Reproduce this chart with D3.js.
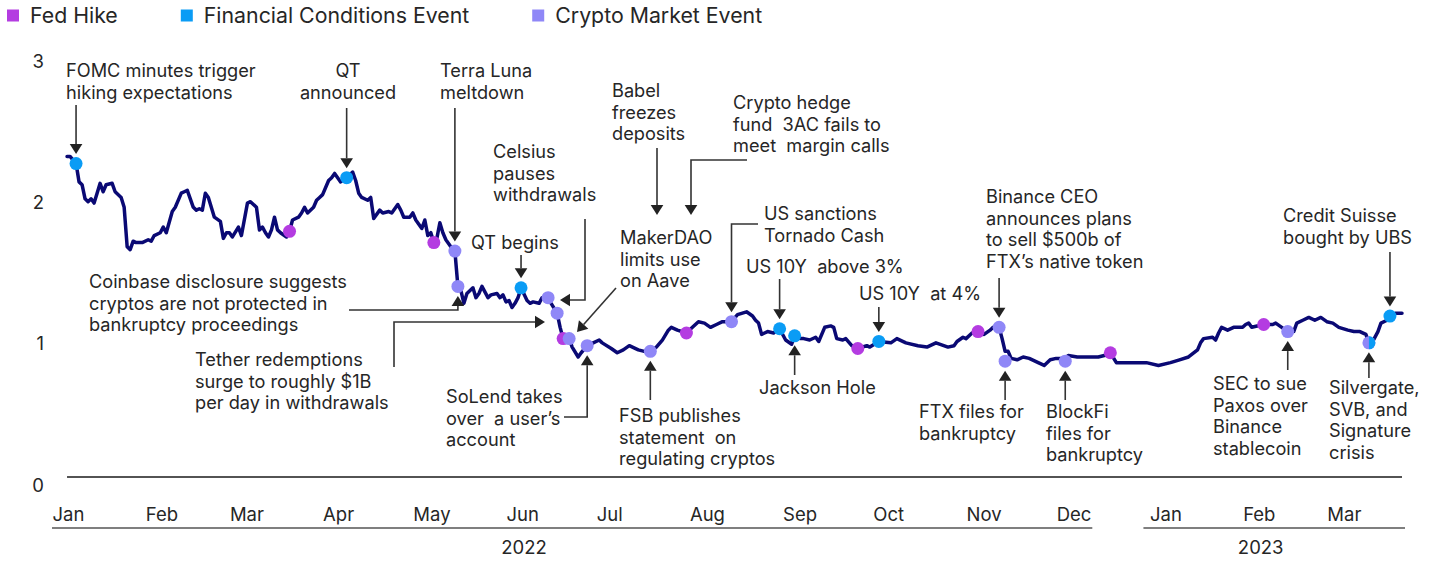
<!DOCTYPE html>
<html>
<head>
<meta charset="utf-8">
<script src="https://cdn.jsdelivr.net/npm/d3@7"></script>
<style>
  body { margin: 0; background: #fff; }
  text { font-family: Inter, "Noto Sans", sans-serif; fill: #262626; }
</style>
</head>
<body>
<div id="chart"></div>
<script>
// ---- data ----
const lineDates = [
  "2022-01-06","2022-01-07","2022-01-09","2022-01-10","2022-01-11","2022-01-12","2022-01-13","2022-01-14","2022-01-15","2022-01-16",
  "2022-01-17","2022-01-18","2022-01-19","2022-01-21","2022-01-22","2022-01-24","2022-01-25","2022-01-26","2022-01-27","2022-01-28",
  "2022-01-29","2022-01-31","2022-02-02","2022-02-03","2022-02-04","2022-02-06","2022-02-07","2022-02-08","2022-02-10","2022-02-11",
  "2022-02-13","2022-02-14","2022-02-15","2022-02-17","2022-02-18","2022-02-19","2022-02-20","2022-02-21","2022-02-22","2022-02-24",
  "2022-02-26","2022-02-27","2022-02-28","2022-03-01","2022-03-02","2022-03-04","2022-03-05","2022-03-07","2022-03-08","2022-03-10",
  "2022-03-11","2022-03-12","2022-03-13","2022-03-14","2022-03-15","2022-03-16","2022-03-17","2022-03-18","2022-03-20","2022-03-21",
  "2022-03-22","2022-03-24","2022-03-25","2022-03-26","2022-03-27","2022-03-29","2022-03-30","2022-03-31","2022-04-01","2022-04-03",
  "2022-04-04","2022-04-05","2022-04-06","2022-04-07","2022-04-09","2022-04-11","2022-04-12","2022-04-13","2022-04-14","2022-04-16",
  "2022-04-17","2022-04-18","2022-04-20","2022-04-21","2022-04-23","2022-04-24","2022-04-26","2022-04-27","2022-04-28","2022-04-30",
  "2022-05-01","2022-05-02","2022-05-04","2022-05-05","2022-05-06","2022-05-07","2022-05-08","2022-05-09","2022-05-10","2022-05-11",
  "2022-05-12","2022-05-14","2022-05-15","2022-05-16","2022-05-17","2022-05-18","2022-05-19","2022-05-21","2022-05-22","2022-05-23",
  "2022-05-24","2022-05-26","2022-05-27","2022-05-29","2022-05-30","2022-05-31","2022-06-01","2022-06-02","2022-06-03","2022-06-04",
  "2022-06-05","2022-06-06","2022-06-08","2022-06-09","2022-06-10","2022-06-12","2022-06-13","2022-06-15","2022-06-16","2022-06-18",
  "2022-06-19","2022-06-20","2022-06-22","2022-06-23","2022-06-25","2022-06-26","2022-06-28","2022-06-30","2022-07-02","2022-07-03",
  "2022-07-06","2022-07-08","2022-07-10","2022-07-12","2022-07-15","2022-07-17","2022-07-19","2022-07-21","2022-07-23","2022-07-25",
  "2022-07-26","2022-07-28","2022-07-31","2022-08-02","2022-08-04","2022-08-06","2022-08-08","2022-08-10","2022-08-12","2022-08-15",
  "2022-08-17","2022-08-20","2022-08-22","2022-08-23","2022-08-24","2022-08-25","2022-08-26","2022-08-27","2022-08-29","2022-08-31",
  "2022-09-02","2022-09-04","2022-09-05","2022-09-07","2022-09-08","2022-09-10","2022-09-12","2022-09-13","2022-09-15","2022-09-17",
  "2022-09-18","2022-09-19","2022-09-21","2022-09-22","2022-09-24","2022-09-26","2022-09-29","2022-09-30","2022-10-03","2022-10-07",
  "2022-10-09","2022-10-12","2022-10-16","2022-10-19","2022-10-22","2022-10-26","2022-10-28","2022-10-29","2022-10-31","2022-11-01",
  "2022-11-03","2022-11-05","2022-11-07","2022-11-09","2022-11-10","2022-11-12","2022-11-13","2022-11-14","2022-11-15","2022-11-16",
  "2022-11-18","2022-11-20","2022-11-22","2022-11-25","2022-11-27","2022-11-29","2022-12-01","2022-12-04","2022-12-05","2022-12-08",
  "2022-12-10","2022-12-12","2022-12-15","2022-12-17","2022-12-19","2022-12-21","2022-12-23","2022-12-25","2022-12-28","2022-12-31",
  "2023-01-04","2023-01-08","2023-01-11","2023-01-14","2023-01-17","2023-01-18","2023-01-19","2023-01-22","2023-01-23","2023-01-24",
  "2023-01-25","2023-01-27","2023-01-29","2023-01-30","2023-02-01","2023-02-02","2023-02-03","2023-02-04","2023-02-08","2023-02-11",
  "2023-02-12","2023-02-14","2023-02-16","2023-02-18","2023-02-19","2023-02-21","2023-02-23","2023-02-25","2023-02-27","2023-03-01",
  "2023-03-03","2023-03-05","2023-03-08","2023-03-10","2023-03-12","2023-03-14","2023-03-15","2023-03-16","2023-03-18","2023-03-19",
  "2023-03-21","2023-03-22","2023-03-24","2023-03-26"
];
const lineValues = [
  2.27,2.27,2.22,2.09,2.07,1.97,1.95,1.97,1.94,2.01,
  2.08,2.02,2.07,2.08,2.02,1.98,1.91,1.63,1.61,1.67,
  1.66,1.66,1.68,1.67,1.71,1.73,1.77,1.73,1.88,1.91,
  2.01,2.02,2.03,1.91,1.89,1.90,1.89,2.01,1.98,1.84,
  1.81,1.69,1.73,1.73,1.70,1.77,1.71,1.94,1.95,1.91,
  1.75,1.77,1.73,1.70,1.75,1.84,1.75,1.73,1.70,1.74,
  1.82,1.84,1.87,1.91,1.87,1.91,1.96,1.98,2.00,2.10,
  2.12,2.15,2.12,2.09,2.12,2.16,2.10,2.01,1.98,1.96,
  1.98,1.83,1.89,1.87,1.88,1.87,1.93,1.89,1.84,1.84,
  1.87,1.82,1.76,1.82,1.71,1.73,1.66,1.69,1.80,1.73,
  1.68,1.62,1.60,1.35,1.32,1.23,1.30,1.34,1.27,1.30,
  1.35,1.27,1.29,1.30,1.27,1.29,1.24,1.25,1.20,1.23,
  1.27,1.34,1.25,1.23,1.24,1.23,1.27,1.27,1.23,1.16,
  1.06,0.98,0.98,0.92,0.85,0.88,0.93,0.95,0.97,0.95,
  0.91,0.88,0.90,0.93,0.90,0.89,0.89,0.92,0.97,1.04,
  1.06,1.04,1.02,1.06,1.10,1.09,1.06,1.08,1.10,1.10,
  1.15,1.17,1.14,1.11,1.09,1.01,1.02,1.03,1.02,1.05,
  0.97,0.94,1.00,0.98,0.98,0.97,0.99,0.96,1.06,1.07,
  1.06,0.98,0.97,0.98,0.93,0.91,0.93,0.92,0.96,0.95,
  0.98,0.95,0.93,0.92,0.95,0.92,0.93,0.96,0.99,0.98,
  1.02,1.03,1.01,1.04,1.06,1.06,0.98,0.89,0.89,0.84,
  0.83,0.85,0.84,0.81,0.79,0.83,0.84,0.84,0.86,0.85,
  0.85,0.85,0.85,0.86,0.88,0.81,0.81,0.81,0.81,0.81,
  0.79,0.81,0.83,0.85,0.90,0.95,0.98,0.99,0.97,1.02,
  1.06,1.04,1.06,1.06,1.06,1.08,1.09,1.06,1.08,1.08,
  1.09,1.06,1.03,1.03,1.09,1.11,1.13,1.11,1.13,1.10,
  1.09,1.06,1.04,1.03,1.03,1.01,0.95,0.95,1.03,1.09,
  1.11,1.14,1.16,1.16
];

const eventDates = [
  "2022-01-09","2022-03-21","2022-04-09","2022-05-08","2022-05-15","2022-05-16","2022-06-06",
  "2022-06-15","2022-06-18","2022-06-20","2022-06-22","2022-06-28","2022-07-19","2022-07-31",
  "2022-08-15","2022-08-31","2022-09-05","2022-09-26","2022-10-03","2022-11-05","2022-11-12",
  "2022-11-14","2022-12-04","2022-12-19","2023-02-08","2023-02-16","2023-03-15","2023-03-22"
];
const eventValues = [
  2.22,1.74,2.12,1.66,1.60,1.35,1.34,
  1.27,1.16,0.98,0.98,0.93,0.89,1.02,
  1.10,1.05,1.00,0.91,0.96,1.03,1.06,
  0.82,0.82,0.88,1.08,1.03,0.95,1.14
];
const eventTypes = [
  "fin","fed","fin","fed","crypto","crypto","fin",
  "crypto","crypto","fed","crypto","crypto","crypto","fed",
  "crypto","fin","fin","fed","fin","fed","crypto",
  "crypto","crypto","fed","fed","crypto","crypto+fin","fin"
];

const yTicks = [0, 1, 2, 3];
const legendLabels = ["Fed Hike", "Financial Conditions Event", "Crypto Market Event"];
const legendKeys = ["fed", "fin", "crypto"];
const yearLabels = ["2022", "2023"];
const yearStarts = ["2022-01-01", "2022-12-30"];
const yearEnds = ["2022-12-13", "2023-03-27"];
const yearCentres = ["2022-06-07", "2023-02-07"];

// ---- style ----
const colors = { fed: "#b43ce1", fin: "#0a9cf5", crypto: "#8f87f7" };
const lineColor = "#0a0974";
const inkColor = "#333";
const dotR = 6.5;

const width = 1434, height = 561;
const margin = { top: 53.4, right: 29, bottom: 84, left: 52 };

const parse = d3.utcParse("%Y-%m-%d");
const series = lineDates.map((d, i) => ({ date: parse(d), value: lineValues[i] }));
const events = eventDates.map((d, i) => ({ date: parse(d), value: eventValues[i], type: eventTypes[i] }));

const svg = d3.select("#chart").append("svg")
  .attr("width", width)
  .attr("height", height);

const x = d3.scaleUtc()
  .domain([parse("2022-01-01"), parse("2023-03-27")])
  .range([margin.left, width - margin.right]);

const y = d3.scaleLinear()
  .domain([0, 3])
  .range([height - margin.bottom, margin.top]);

// legend
const legend = svg.append("g").attr("class", "legend");
let lx = 7;
legendLabels.forEach(function (label, i) {
  legend.append("rect")
    .attr("x", lx).attr("y", 9.5)
    .attr("width", 12).attr("height", 12)
    .attr("fill", colors[legendKeys[i]]);
  const t = legend.append("text")
    .attr("x", lx + 23).attr("y", 23)
    .style("font-size", "21.3px")
    .text(label);
  lx = lx + 23 + t.node().getComputedTextLength() + 63;
});

// y axis
const yAxis = svg.append("g")
  .attr("class", "axis axis--y")
  .attr("transform", "translate(" + margin.left + ",0)")
  .call(d3.axisLeft(y).tickValues(yTicks).tickSize(0).tickPadding(8).tickFormat(d3.format("d")));
yAxis.select(".domain").remove();
yAxis.selectAll("text")
  .attr("dy", "0.76em")
  .style("font-size", "18.5px")
  .style("font-family", "Inter, sans-serif")
  .attr("fill", "#262626");

// zero line
svg.append("line")
  .attr("x1", x(series[0].date)).attr("x2", x(series[series.length - 1].date))
  .attr("y1", y(0)).attr("y2", y(0))
  .attr("stroke", "#1a1a1a").attr("stroke-width", 1.6);

// x axis (months)
const xAxis = svg.append("g")
  .attr("class", "axis axis--x")
  .attr("transform", "translate(0," + y(0) + ")")
  .call(d3.axisBottom(x).ticks(d3.utcMonth.every(1)).tickFormat(d3.utcFormat("%b")).tickSize(0).tickPadding(31));
xAxis.select(".domain").remove();
xAxis.selectAll("text")
  .attr("text-anchor", "start")
  .style("font-size", "18.5px")
  .style("font-family", "Inter, sans-serif")
  .attr("fill", "#262626");

// year brackets
const years = svg.append("g").attr("class", "years");
yearLabels.forEach(function (label, i) {
  years.append("line")
    .attr("x1", x(parse(yearStarts[i]))).attr("x2", x(parse(yearEnds[i])))
    .attr("y1", y(0) + 51).attr("y2", y(0) + 51)
    .attr("stroke", "#555").attr("stroke-width", 1.3);
  years.append("text")
    .attr("x", x(parse(yearCentres[i]))).attr("y", y(0) + 77)
    .attr("text-anchor", "middle")
    .style("font-size", "18.5px")
    .text(label);
});

// main line
const line = d3.line()
  .x(d => x(d.date))
  .y(d => y(d.value));

svg.append("path")
  .datum(series)
  .attr("fill", "none")
  .attr("stroke", lineColor)
  .attr("stroke-width", 3.5)
  .attr("stroke-linejoin", "round")
  .attr("stroke-linecap", "round")
  .attr("d", line);

// event dots
const dots = svg.append("g").attr("class", "events");
events.forEach(function (e) {
  const cx = x(e.date), cy = y(e.value);
  if (e.type === "crypto+fin") {
    dots.append("circle").attr("cx", cx).attr("cy", cy).attr("r", dotR).attr("fill", colors.crypto);
    dots.append("path")
      .attr("transform", "translate(" + cx + "," + cy + ")")
      .attr("d", d3.arc()({ innerRadius: 0, outerRadius: dotR, startAngle: 0, endAngle: Math.PI }))
      .attr("fill", colors.fin);
  } else {
    dots.append("circle").attr("cx", cx).attr("cy", cy).attr("r", dotR).attr("fill", colors[e.type]);
  }
});

// annotations (layout in pixels; arrows to dots are derived from the event)
const notes = [
  { lines: ["FOMC minutes trigger", "hiking expectations"], x: 66, y: 77, y0: 105, ev: 0 },
  { lines: ["QT", "announced"], x: 348, y: 77, anchor: "middle", y0: 108, ev: 2 },
  { lines: ["Terra Luna", "meltdown"], x: 440, y: 77, y0: 108, ev: 4 },
  { lines: ["Babel", "freezes", "deposits"], x: 612, y: 97, pts: [[657, 148], [657, 215]] },
  { lines: ["Crypto hedge", "fund  3AC fails to", "meet  margin calls"], x: 733, y: 109, pts: [[747, 160], [691, 160], [691, 215]] },
  { lines: ["Celsius", "pauses", "withdrawals"], x: 493, y: 158, pts: [[585, 219], [585, 300], [560, 300]] },
  { lines: ["QT begins"], x: 471, y: 249, y0: 255, ev: 6 },
  { lines: ["MakerDAO", "limits use", "on Aave"], x: 620, y: 244, pts: [[616, 288], [577, 332]] },
  { lines: ["Coinbase disclosure suggests", "cryptos are not protected in", "bankruptcy proceedings"], x: 89, y: 288, via: [[349, 310]], ev: 5 },
  { lines: ["Tether redemptions", "surge to roughly $1B", "per day in withdrawals"], x: 195, y: 366, pts: [[394, 367], [394, 322], [545, 322]] },
  { lines: ["SoLend takes", "over  a user\u2019s", "account"], x: 446, y: 403, via: [[564, 417]], ev: 11 },
  { lines: ["FSB publishes", "statement  on", "regulating cryptos"], x: 619, y: 422, y0: 400, ev: 12 },
  { lines: ["US sanctions", "Tornado Cash"], x: 764, y: 220, via: [[758, 224]], ev: 14 },
  { lines: ["US 10Y  above 3%"], x: 746, y: 273, y0: 279, ev: 15 },
  { lines: ["Jackson Hole"], x: 759, y: 394, y0: 375, ev: 16 },
  { lines: ["US 10Y  at 4%"], x: 859, y: 300, y0: 307, ev: 18 },
  { lines: ["Binance CEO", "announces plans", "to sell $500b of", "FTX\u2019s native token"], x: 986, y: 203, y0: 278, ev: 20 },
  { lines: ["FTX files for", "bankruptcy"], x: 919, y: 418, y0: 400, ev: 21 },
  { lines: ["BlockFi", "files for", "bankruptcy"], x: 1046, y: 418, y0: 400, ev: 22 },
  { lines: ["SEC to sue", "Paxos over", "Binance", "stablecoin"], x: 1213, y: 390, y0: 370, ev: 25 },
  { lines: ["Silvergate,", "SVB, and", "Signature", "crisis"], x: 1329, y: 394, y0: 378, ev: 26 },
  { lines: ["Credit Suisse", "bought by UBS"], x: 1283, y: 222, y0: 252, ev: 27 }
];
const lineGap = 21.7;
const headLen = 10, headHalf = 6.3, tipGap = 3;

function arrowPoints(n) {
  if (n.ev == null) return n.pts.slice();
  const e = events[n.ev];
  const cx = x(e.date), cy = y(e.value);
  let pts;
  if (n.via) {
    pts = n.via.slice();
    pts.push([cx, n.via[n.via.length - 1][1]]);
  } else {
    pts = [[cx, n.y0]];
  }
  const lastY = pts[pts.length - 1][1];
  pts.push([cx, lastY < cy ? cy - dotR - tipGap : cy + dotR + tipGap]);
  return pts;
}

const ann = svg.append("g").attr("class", "annotations");
notes.forEach(function (n) {
  const t = ann.append("text")
    .attr("x", n.x).attr("y", n.y)
    .attr("text-anchor", n.anchor || "start")
    .attr("xml:space", "preserve")
    .style("white-space", "pre")
    .style("font-size", "18.2px");
  n.lines.forEach(function (s, i) {
    t.append("tspan").attr("x", n.x).attr("y", n.y + i * lineGap).text(s);
  });

  const pts = arrowPoints(n);
  const tip = pts[pts.length - 1], prev = pts[pts.length - 2];
  const dx = tip[0] - prev[0], dy = tip[1] - prev[1];
  const len = Math.sqrt(dx * dx + dy * dy);
  const ux = dx / len, uy = dy / len;
  const base = [tip[0] - ux * headLen, tip[1] - uy * headLen];
  const shaft = pts.slice(0, -1).concat([base]);
  ann.append("path")
    .attr("d", d3.line()(shaft))
    .attr("fill", "none")
    .attr("stroke", inkColor)
    .attr("stroke-width", 1.6);
  ann.append("path")
    .attr("d", d3.line()([
      tip,
      [base[0] - uy * headHalf, base[1] + ux * headHalf],
      [base[0] + uy * headHalf, base[1] - ux * headHalf]
    ]) + "Z")
    .attr("fill", "#222");
});
</script>
</body>
</html>
